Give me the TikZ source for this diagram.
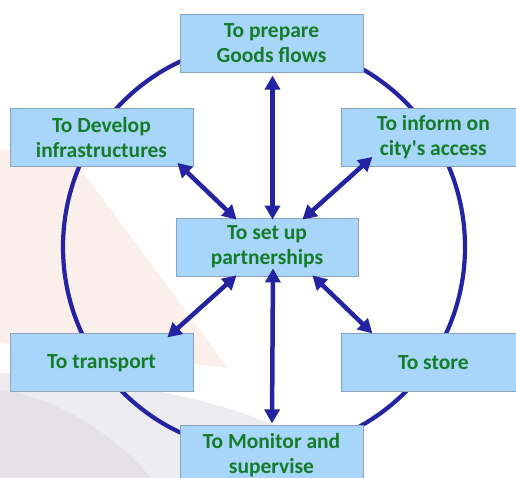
\documentclass[tikz,border=0pt]{standalone}
\usepackage{fontspec}
\setmainfont{Carlito}
\usepackage{tikz}
\usetikzlibrary{positioning}
\usetikzlibrary{arrows.meta}

\definecolor{boxblue}{RGB}{168,213,250}
\definecolor{boxedge}{RGB}{140,162,188}
\definecolor{textgreen}{RGB}{20,124,40}
\definecolor{ringblue}{RGB}{36,36,162}
\definecolor{peach}{RGB}{250,239,234}
\definecolor{mist}{RGB}{236,236,241}
\definecolor{dusk}{RGB}{229,226,231}

\begin{document}
\begin{tikzpicture}[x=1pt,y=1pt,
		task/.style={fill=boxblue,draw=boxedge,line width=0.8pt,rectangle,minimum width=183pt,minimum height=58pt,inner sep=0pt,align=center,text=textgreen,font=\fontsize{21.5}{25}\selectfont\bfseries},
		link/.style={draw=ringblue,line width=4.5pt,>={Triangle[length=14pt,width=15pt]},<->}]
		\useasboundingbox (0,0) rectangle (516,478);
		\clip (0,0) rectangle (516,478);
		% faint shapes behind the cycle
		\fill[peach] (0,328) -- (68,326) -- (228,110) -- (0,135) -- cycle;
		\fill[mist] (0,105) .. controls (130,98) and (280,75) .. (370,-5) -- (0,-5) -- cycle;
		\fill[dusk] (0,88) .. controls (60,80) and (120,40) .. (155,-5) -- (0,-5) -- cycle;
		% the ring
		\draw[ringblue,line width=4.2pt] (264,231) ellipse [x radius=201, y radius=204];
		% the tasks
		\node[task,minimum width=182pt] at (267,231) (partners) {To set up\\partnerships};
		\node[task,above = 145pt of partners,xshift=4.5pt] (prep) {To prepare\\Goods flows};
		\node[task,below = 149pt of partners,xshift=4.5pt] (monitor) {To Monitor and\\supervise};
		\node[task] at (101.5,340.5) (devel) {To Develop\\infrastructures};
		\node[task,right = 148pt of devel] (inform) {To inform on\\city\textquotesingle s access};
		\node[task,below = 166.5pt of devel] (transp) {To transport};
		\node[task,right = 148pt of transp] (store) {To store};
		% links to the centre
		\draw[link] ([shift={(1,-3)}]prep.south) -- ([shift={(5.5,-2)}]partners.north);
		\draw[link] ([shift={(-16,4)}]devel.south east) -- ([shift={(61,-2)}]partners.north west);
		\draw[link] ([shift={(31,10)}]inform.south west) -- ([shift={(-56,-2)}]partners.north east);
		\draw[link] ([shift={(61,1)}]partners.south west) -- ([shift={(-26,-4)}]transp.north east);
		\draw[link] ([shift={(-46,1)}]partners.south east) -- ([shift={(31,0)}]store.north west);
		\draw[link] ([shift={(6,8)}]partners.south) -- ([shift={(0.5,2)}]monitor.north);
	\end{tikzpicture}
\end{document}
